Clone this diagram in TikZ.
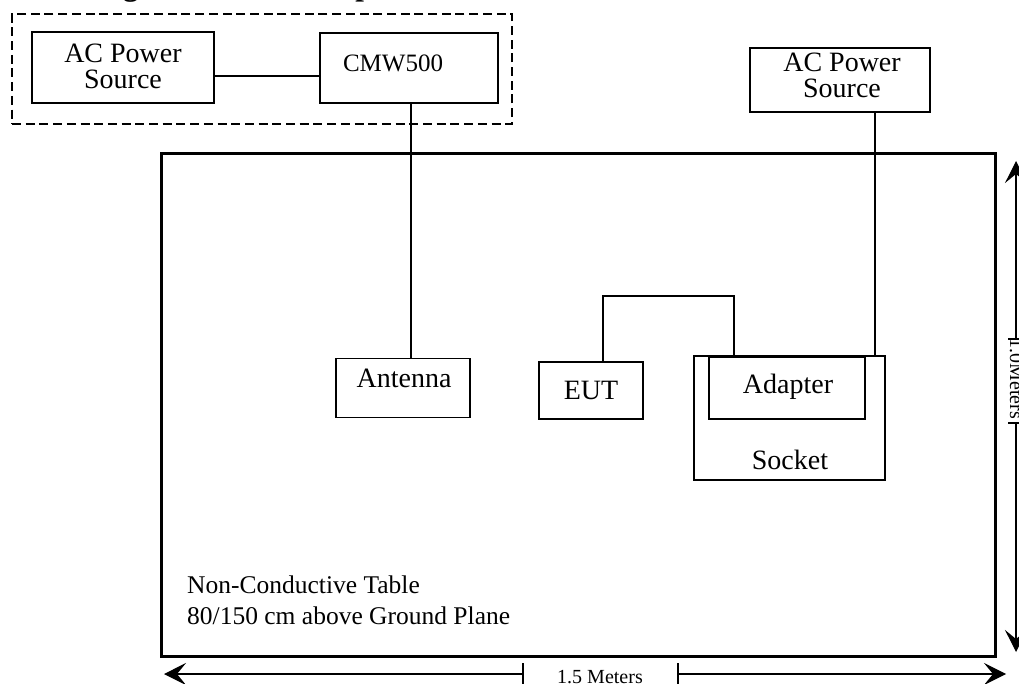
\documentclass[tikz,border=0pt]{standalone}
\usepackage{fontspec}
\setmainfont{Liberation Serif}
\usetikzlibrary{arrows.meta}
\begin{document}
\begin{tikzpicture}[x=1pt,y=-1pt,
  box/.style={draw,line width=1.8pt,inner sep=0pt},
  wire/.style={line width=1.8pt},
  lbl/.style={inner sep=0pt,align=center,font=\fontsize{28}{26}\selectfont},
  small/.style={inner sep=0pt,font=\fontsize{20}{22}\selectfont},
  dimarrow/.style={line width=1.3pt,-{Stealth[length=22pt,width=22pt,inset=9pt]}},
  tick/.style={line width=1.3pt}]
\useasboundingbox (0,0) rectangle (1019,684);
\begin{scope}
\clip (0,0) rectangle (1019,684);
% cut-off title
\node[anchor=base west,inner sep=0pt,font=\bfseries\fontsize{31}{31}\selectfont] (title) at (-7,-4) {Block Diagram of Test Setup};
% dashed frame
\node[draw,dash pattern=on 9pt off 4.7pt,line width=1.3pt,minimum width=500pt,minimum height=110pt,inner sep=0pt] (frame) at (262,69) {};
% boxes
\node[box,minimum width=182pt,minimum height=71pt] (acL) at (123,67.5) {};
\node[lbl] (acLt) at (123,66) {AC Power\\Source};
\node[box,minimum width=178pt,minimum height=70pt] (cmw) at (409,68) {};
\node[lbl,font=\fontsize{25}{25}\selectfont] (cmwt) at (393,63) {CMW500};
\node[box,minimum width=180pt,minimum height=64pt] (acR) at (840,80) {};
\node[lbl] (acRt) at (842,75) {AC Power\\Source};
% table
\node[draw,line width=3pt,minimum width=834pt,minimum height=502pt,inner sep=0pt] (table) at (578,405) {};
\node[anchor=base west,inner sep=0pt,align=left,font=\fontsize{25.5}{31}\selectfont] (tablet) at (187,624) {Non-Conductive Table\\80/150 cm above Ground Plane};
% devices
\node[box,minimum width=134pt,minimum height=59pt] (ant) at (403,388) {};
\node[lbl] (antt) at (404,378) {Antenna};
\node[box,minimum width=104pt,minimum height=57pt] (eut) at (591,390.5) {};
\node[lbl] (eutt) at (591,390) {EUT};
\node[box,minimum width=191pt,minimum height=124pt] (sock) at (789.5,418) {};
\node[box,minimum width=156pt,minimum height=62pt] (adp) at (787,388) {};
\node[lbl] (adpt) at (788,387) {Adapter};
\node[lbl] (sockt) at (790,460) {Socket};
% connectors
\draw[wire] (acL.east |- 0,76) -- (cmw.west |- 0,76);
\draw[wire] (cmw.south -| 411,0) -- (ant.north -| 411,0);
\draw[wire] (acR.south -| 875,0) -- (sock.north -| 875,0);
\coordinate (bendA) at (603,296);
\coordinate (bendB) at (734,296);
\draw[wire] (eut.north -| bendA) -- (bendA) -- (bendB) -- (adp.north -| bendB);
% dimension 1.5 m
\coordinate (hL) at (164,674);
\coordinate (hR) at (1006,674);
\coordinate (hT1) at (523,674);
\coordinate (hT2) at (678,674);
\draw[dimarrow] (hT1) -- (hL);
\draw[dimarrow] (hT2) -- (hR);
\draw[tick] ([yshift=-11pt]hT1) -- ([yshift=11pt]hT1);
\draw[tick] ([yshift=-11pt]hT2) -- ([yshift=11pt]hT2);
\node[small,anchor=base] (hlab) at (600,683) {1.5 Meters};
% dimension 1.0 m
\coordinate (vT) at (1016,161);
\coordinate (vB) at (1016,652);
\coordinate (vT1) at (1016,339);
\coordinate (vT2) at (1016,423);
\draw[dimarrow] (vT1) -- (vT);
\draw[dimarrow] (vT2) -- (vB);
\draw[tick] ([xshift=-8pt]vT1) -- ([xshift=8pt]vT1);
\draw[tick] ([xshift=-8pt]vT2) -- ([xshift=8pt]vT2);
\node[small,rotate=-90,anchor=base] (vlab) at (1010,379) {1.0Meters};
\end{scope}
\end{tikzpicture}
\end{document}
